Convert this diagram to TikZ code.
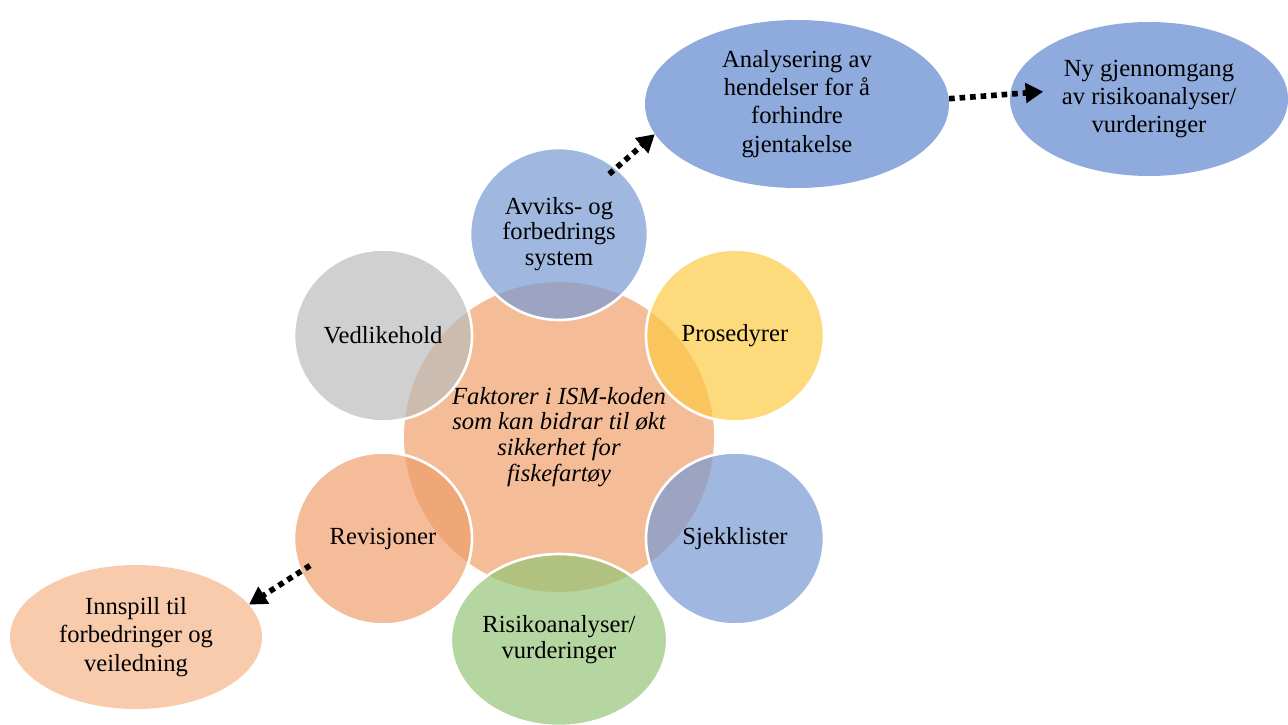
\documentclass[tikz,border=0pt]{standalone}
\usepackage{fontspec}
\setmainfont{Liberation Serif}
\usetikzlibrary{arrows.meta,positioning,shapes.geometric}

\definecolor{coreorange}{RGB}{244,188,151}
\definecolor{factorblue}{RGB}{119,154,211}
\definecolor{factoryellow}{RGB}{252,202,68}
\definecolor{factorgreen}{RGB}{149,196,119}
\definecolor{factorgrey}{RGB}{188,188,188}
\definecolor{factororange}{RGB}{239,159,108}
\definecolor{outcomeblue}{RGB}{143,170,220}
\definecolor{outcomeorange}{RGB}{248,203,173}

\begin{document}
\begin{tikzpicture}[
    core/.style={circle, fill=coreorange, minimum size=6.2cm, inner sep=0pt, align=center, font=\fontsize{14}{14.7}\selectfont\itshape},
    factor/.style={ellipse, draw=white, line width=1.5pt, fill opacity=0.7, text opacity=1, minimum width=3.56cm, minimum height=3.44cm, inner sep=0pt, align=center, font=\fontsize{14}{14.7}\selectfont},
    outcome/.style={ellipse, inner sep=0pt, align=center, font=\fontsize{14}{16}\selectfont},
    dotarrow/.style={line width=3.2pt, dash pattern=on 3.2pt off 2.8pt, -{Triangle[length=10pt,width=11pt]}}
]
\useasboundingbox (0,0) rectangle (25.76,-14.5);

% Center: the ISM factors
\node[core] (core) at (11.18,-8.74) {Faktorer i ISM-koden\\som kan bidrar til økt\\sikkerhet for\\fiskefartøy};

% Factors around the center
\node[factor, fill=factorblue] (avvik) at (11.18,-4.68) {Avviks- og\\forbedrings\\system};
\node[factor, fill=factoryellow] (prosedyrer) at (14.70,-6.71) {Prosedyrer};
\node[factor, fill=factorblue] (sjekk) at (14.70,-10.77) {Sjekklister};
\node[factor, fill=factorgreen] (risiko) at (11.18,-12.80) {Risikoanalyser/\\vurderinger};
\node[factor, fill=factororange] (revisjon) at (7.66,-10.77) {Revisjoner};
\node[factor, fill=factorgrey] (vedlikehold) at (7.66,-6.71) {Vedlikehold};

% Outcomes
\node[outcome, fill=outcomeblue, minimum width=6.08cm, minimum height=3.36cm] (analyse) at (15.94,-2.08) {Analysering av\\hendelser for å\\forhindre\\gjentakelse};
\node[outcome, fill=outcomeblue, minimum width=5.56cm, minimum height=3.08cm] (ny) at (22.98,-1.98) {Ny gjennomgang\\av risikoanalyser/\\vurderinger};
\node[outcome, fill=outcomeorange, minimum width=5.04cm, minimum height=2.88cm] (innspill) at (2.72,-12.74) {Innspill til\\forbedringer og\\veiledning};

% Dotted arrows
\draw[dotarrow, shorten <=-6pt] (avvik.49) -- (analyse.192);
\draw[dotarrow, shorten >=-19pt] (analyse.2) -- (ny.178);
\draw[dotarrow, shorten <=-7pt] (revisjon.202) -- (innspill.16);

\end{tikzpicture}
\end{document}
